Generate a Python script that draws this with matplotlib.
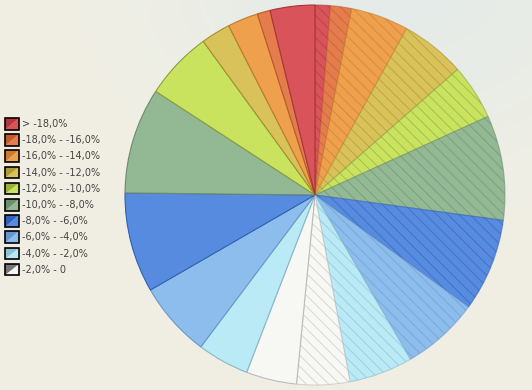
import numpy as np
import matplotlib.pyplot as plt
from matplotlib.colors import to_rgb
from matplotlib.legend_handler import HandlerBase
from matplotlib.patches import Polygon, Rectangle

# categorias de la leyenda
categorias = ['> -18,0%', '-18,0% - -16,0%', '-16,0% - -14,0%', '-14,0% - -12,0%',
              '-12,0% - -10,0%', '-10,0% - -8,0%', '-8,0% - -6,0%', '-6,0% - -4,0%',
              '-4,0% - -2,0%', '-2,0% - 0']

# porcentajes por categoria (mitad derecha rayada, mitad izquierda lisa)
valores_rayados = [1.3, 1.8, 4.9, 5.5, 4.7, 8.9, 7.9, 6.6, 5.4, 4.5]
valores_lisos = [3.8, 1.1, 2.6, 2.5, 5.8, 9.0, 8.5, 6.4, 4.4, 4.3]

colores = ['#d9545a', '#e57c4c', '#eea04c', '#d9c25a', '#c9e35f',
           '#93b894', '#578be0', '#8dbdec', '#bbeaf7', '#f7f7f4']
colores_oscuros = ['#b8353b', '#c25a2c', '#cc7d2c', '#b09a34', '#98b234',
                   '#6b8f6d', '#2f5fbf', '#6597d2', '#8cc2d6', '#777777']
bordes = ['#a8343a', '#b85a30', '#c07a30', '#a89030', '#8aa040',
          '#6a8c6c', '#3060b0', '#6a98c8', '#88b8c8', '#bbbbbb']


class Muestra:
    def __init__(self, claro, oscuro):
        self.claro = claro
        self.oscuro = oscuro


class ManejadorMuestra(HandlerBase):
    def create_artists(self, legend, orig, xd, yd, w, h, fontsize, trans):
        x0, y0 = -xd, -yd
        t1 = Polygon([[x0, y0], [x0 + w, y0], [x0 + w, y0 + h]], closed=True,
                     facecolor=orig.claro, edgecolor='none', transform=trans)
        t2 = Polygon([[x0, y0], [x0, y0 + h], [x0 + w, y0 + h]], closed=True,
                     facecolor=orig.oscuro, edgecolor='none', transform=trans)
        marco = Rectangle((x0, y0), w, h, facecolor='none', edgecolor='black',
                          linewidth=1.2, transform=trans)
        return [t1, t2, marco]


fig = plt.figure(figsize=(5.32, 3.90), dpi=100)

# fondo con degradado suave
fondo = fig.add_axes([0, 0, 1, 1], zorder=-10)
yy, xx = np.mgrid[0:390, 0:532]
d = np.sqrt(((xx - 400) / 330.0) ** 2 + ((yy + 30) / 260.0) ** 2)
t = np.clip(d, 0, 1)[..., None]
c_centro = np.array([0.89, 0.92, 0.915])
c_borde = np.array([0.942, 0.937, 0.894])
fondo.imshow(c_centro * (1 - t) + c_borde * t, aspect='auto')
fondo.axis('off')

plt.rcParams['hatch.linewidth'] = 0.7
ax = fig.add_axes([125 / 532, 5 / 390, 380 / 532, 380 / 390])
valores = valores_rayados + valores_lisos[::-1]
fcolors = colores + colores[::-1]
ecolors = bordes + bordes[::-1]
cunas, _ = ax.pie(valores, colors=fcolors, startangle=90, counterclock=False,
                  wedgeprops=dict(linewidth=0.8))
for i, cuna in enumerate(cunas):
    if i < len(valores_rayados):
        cuna.set_edgecolor(to_rgb(ecolors[i]) + (0.55,))
        cuna.set_hatch('\\\\\\')
    else:
        cuna.set_edgecolor(ecolors[i])
ax.set_xlim(-1, 1)
ax.set_ylim(-1, 1)
ax.set_aspect('equal')

muestras = [Muestra(c, o) for c, o in zip(colores, colores_oscuros)]
fig.legend(muestras, categorias, handler_map={Muestra: ManejadorMuestra()},
           loc='upper left', bbox_to_anchor=(5 / 532, 1 - 118 / 390),
           frameon=False, borderpad=0, borderaxespad=0, fontsize=7,
           handlelength=1.45, handleheight=1.45, handletextpad=0.3,
           labelspacing=0.48, labelcolor='#444444')

fig.savefig('out.png', dpi=100)
